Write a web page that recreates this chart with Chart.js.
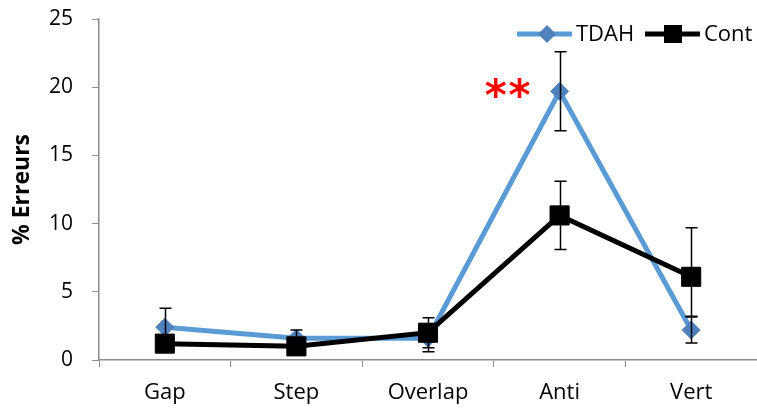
<!DOCTYPE html>
<html>
<head>
<meta charset="utf-8">
<script src="https://cdn.jsdelivr.net/npm/chart.js@4/dist/chart.umd.min.js"></script>
<style>
  html, body { margin: 0; padding: 0; background: #fff; overflow: hidden; }
  canvas { display: block; }
</style>
</head>
<body>
<canvas id="c" width="757" height="408"></canvas>
<script>
// Conditions and mean error rates (%) per group
const categories = ['Gap', 'Step', 'Overlap', 'Anti', 'Vert'];
const tdahValues = [2.4, 1.6, 1.6, 19.7, 2.2];
const contValues = [1.2, 1.0, 2.0, 10.6, 6.1];
// Error bar extents (above / below the mean)
const tdahErrUp   = [1.4, 0.6, 1.0, 2.9, 0.95];
const tdahErrDown = [1.4, 0.6, 1.0, 2.9, 0.95];
const contErrUp   = [0.4, 0.4, 1.1, 2.5, 3.6];
const contErrDown = [0.4, 0.4, 1.1, 2.5, 2.9];
const yTicks = [0, 5, 10, 15, 20, 25];
// Significance marker
const sigLabel = '**';
const sigIndex = 3;

const FONT = '"Open Sans", Lato, sans-serif';
const BLUE_LINE = '#5b9bd5';
const BLUE_MARK = '#4f81bd';
const AXIS = '#8c8c8c';

const errorBars = {
  id: 'errorBars',
  afterDatasetDraw(chart, args) {
    const ds = chart.data.datasets[args.index];
    if (!ds.errUp) return;
    const y = chart.scales.y;
    const ctx = chart.ctx;
    ctx.save();
    ctx.strokeStyle = '#000';
    ctx.lineWidth = 1.5;
    args.meta.data.forEach((pt, i) => {
      const v = ds.data[i];
      const top = y.getPixelForValue(v + ds.errUp[i]);
      const bot = y.getPixelForValue(v - ds.errDown[i]);
      const x = Math.round(pt.x) + 0.5;
      ctx.beginPath();
      ctx.moveTo(x, top); ctx.lineTo(x, bot);
      ctx.moveTo(x - 6, top); ctx.lineTo(x + 6, top);
      ctx.moveTo(x - 6, bot); ctx.lineTo(x + 6, bot);
      ctx.stroke();
    });
    ctx.restore();
  }
};

const extras = {
  id: 'extras',
  afterDraw(chart) {
    const ctx = chart.ctx;
    const xs = chart.scales.x, ys = chart.scales.y;
    ctx.save();
    // significance stars, centred left of the Anti point
    ctx.fillStyle = '#ff0000';
    ctx.font = 'bold 42px "DejaVu Sans", sans-serif';
    ctx.letterSpacing = '2px';
    ctx.textAlign = 'center';
    ctx.textBaseline = 'alphabetic';
    const m = ctx.measureText(sigLabel);
    const cy = ys.getPixelForValue(tdahValues[sigIndex]) - 3;
    const cx = xs.getPixelForValue(sigIndex) - 51;
    ctx.fillText(sigLabel, cx, cy + (m.actualBoundingBoxAscent - m.actualBoundingBoxDescent) / 2);
    ctx.letterSpacing = '0px';

    // legend
    const ly = 34;
    ctx.lineWidth = 5;
    ctx.strokeStyle = BLUE_LINE;
    ctx.beginPath(); ctx.moveTo(517, ly); ctx.lineTo(572, ly); ctx.stroke();
    ctx.fillStyle = BLUE_MARK;
    ctx.beginPath();
    ctx.moveTo(547, ly - 9); ctx.lineTo(556, ly); ctx.lineTo(547, ly + 9); ctx.lineTo(538, ly);
    ctx.closePath(); ctx.fill();
    ctx.strokeStyle = '#000';
    ctx.beginPath(); ctx.moveTo(645, ly); ctx.lineTo(700, ly); ctx.stroke();
    ctx.fillStyle = '#000';
    ctx.fillRect(664, ly - 9, 18, 18);
    ctx.font = '22px ' + FONT;
    ctx.textAlign = 'left';
    ctx.textBaseline = 'middle';
    ctx.fillStyle = '#000';
    ctx.fillText('TDAH', 576, ly + 1);
    ctx.fillText('Cont', 704, ly + 1);
    ctx.restore();
  }
};

new Chart(document.getElementById('c'), {
  type: 'line',
  data: {
    labels: categories,
    datasets: [
      {
        label: 'TDAH',
        data: tdahValues,
        errUp: tdahErrUp,
        errDown: tdahErrDown,
        borderColor: BLUE_LINE,
        borderWidth: 5,
        pointStyle: 'rectRot',
        pointRadius: 9,
        pointBackgroundColor: BLUE_MARK,
        pointBorderColor: BLUE_MARK,
        pointBorderWidth: 1,
        tension: 0,
        clip: false,
        order: 1
      },
      {
        label: 'Cont',
        data: contValues,
        errUp: contErrUp,
        errDown: contErrDown,
        borderColor: '#000',
        borderWidth: 5,
        pointStyle: 'rect',
        pointRadius: 13.5,
        pointBackgroundColor: '#000',
        pointBorderColor: '#000',
        pointBorderWidth: 1,
        tension: 0,
        clip: false,
        order: 0
      }
    ]
  },
  options: {
    responsive: false,
    animation: false,
    devicePixelRatio: 1,
    layout: { autoPadding: false, padding: { top: 19, right: 0, left: 0, bottom: 0 } },
    plugins: { legend: { display: false }, tooltip: { enabled: false } },
    scales: {
      x: {
        offset: true,
        grid: { drawOnChartArea: false, drawTicks: true, tickLength: 7, color: AXIS, offset: true },
        border: { color: AXIS, width: 1.5 },
        ticks: { color: '#000', font: { family: FONT, size: 22 }, padding: 13, maxRotation: 0, minRotation: 0, autoSkip: false },
        afterFit(s) { s.height = 48; s.paddingLeft = 0; s.paddingRight = 0; }
      },
      y: {
        min: yTicks[0], max: yTicks[yTicks.length - 1],
        grid: { drawOnChartArea: false, drawTicks: true, tickLength: 7, color: AXIS },
        border: { color: AXIS, width: 1.5 },
        ticks: { color: '#000', font: { family: FONT, size: 21 }, padding: 19, stepSize: yTicks[1] - yTicks[0], autoSkip: false },
        title: { display: true, text: '% Erreurs', color: '#000', font: { family: FONT, size: 23, weight: 'bold' }, padding: { top: 9, bottom: 0 } },
        afterFit(s) { s.width = 99; s.paddingTop = 0; s.paddingBottom = 0; }
      }
    }
  },
  plugins: [errorBars, extras]
});
</script>
</body>
</html>
